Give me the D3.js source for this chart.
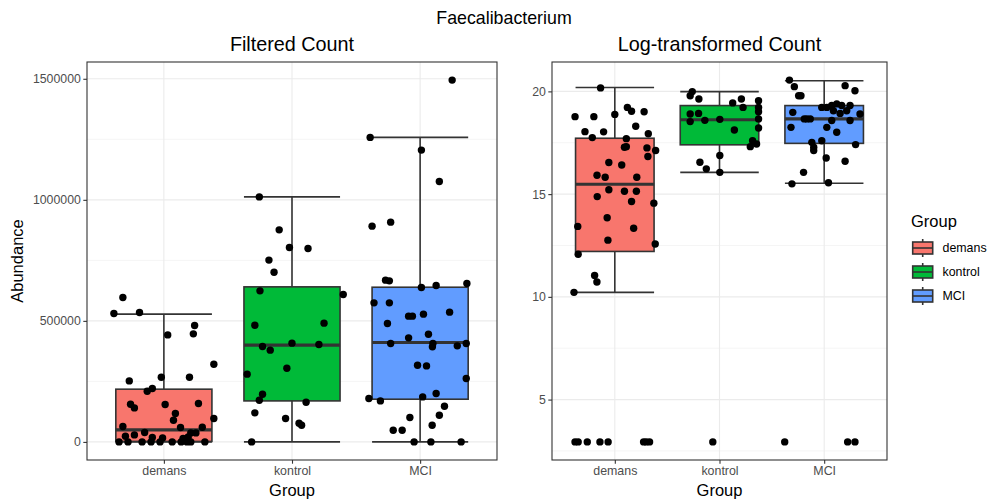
<!DOCTYPE html>
<html>
<head>
<meta charset="utf-8">
<script src="https://cdn.jsdelivr.net/npm/d3@7"></script>
<style>
  body { margin: 0; background: #fff; }
  svg { display: block; font-family: "Liberation Sans", Arial, sans-serif; }
</style>
</head>
<body>
<svg id="chart" width="989" height="500"></svg>
<script>
// ---------------- DATA ----------------
const categories = ["demans", "kontrol", "MCI"];
const colors = ["#F8766D", "#00BA38", "#619CFF"];
const chartTitle = "Faecalibacterium";
const panelTitles = ["Filtered Count", "Log-transformed Count"];
const leftTicks = [0, 500000, 1000000, 1500000];
const leftMinor = [250000, 750000, 1250000];
const rightTicks = [5, 10, 15, 20];
const rightMinor = [2.5, 7.5, 12.5, 17.5];

// Filtered count: values and horizontal jitter (in category units)
const leftDemans = [596700, 530600, 534700, 481000, 446300, 442100, 321000, 252100, 267400, 267400, 220700, 209500, 155800, 140500, 154500, 158700, 117400, 89700, 96700, 63600, 59500, 60700, 37200, 37200, 23600, 28900, 38800, 18200, 16500, 14000, 20700, 0, 0, 0, 0, 0, 0, 0, 0, 0, 0];
const leftDemansJit = [-0.32, -0.39, -0.19, 0.24, 0.23, 0.03, 0.39, -0.27, -0.02, 0.20, -0.09, -0.13, -0.26, -0.23, 0.01, 0.27, 0.09, 0.075, 0.39, -0.32, 0.13, 0.30, 0.21, 0.25, -0.30, -0.23, -0.15, -0.09, -0.01, 0.15, 0.19, -0.35, -0.28, -0.17, -0.10, -0.03, 0.065, 0.135, 0.18, 0.21, 0.32];
const leftKontrol = [1012000, 876000, 803000, 799000, 751000, 701000, 624000, 609000, 482000, 490500, 408000, 402500, 394000, 379000, 304500, 280000, 197000, 172000, 164000, 120000, 96700, 77300, 69000, 0];
const leftKontrolJit = [-0.255, -0.10, -0.02, 0.125, -0.18, -0.14, -0.25, 0.40, -0.29, 0.25, 0.00, 0.21, -0.23, -0.17, -0.04, -0.35, -0.23, -0.255, 0.11, -0.29, -0.05, 0.055, 0.075, -0.315];
const leftMCI = [1494600, 1257900, 1205400, 1076000, 891300, 907800, 668200, 665300, 638000, 646300, 654500, 574400, 574400, 489200, 519400, 519400, 527700, 536000, 445000, 406600, 429800, 406600, 392600, 396700, 406600, 316900, 314000, 262000, 179300, 169400, 186000, 200000, 147500, 110300, 100800, 69000, 48300, 48300, 0, 0, 0];
const leftMCIJit = [0.25, -0.39, 0.01, 0.15, -0.375, -0.23, -0.27, -0.24, 0.01, 0.125, 0.365, -0.36, -0.24, -0.255, -0.09, -0.06, 0.026, 0.23, 0.065, -0.23, -0.09, 0.10, 0.096, 0.29, 0.36, -0.02, 0.05, 0.36, -0.40, -0.31, 0.02, 0.125, 0.19, 0.15, -0.08, 0.094, -0.21, -0.14, -0.047, 0.084, 0.32];

// Box statistics: [lower whisker, Q1, median, Q3, upper whisker]
const leftBoxDemans = [0, 2000, 49600, 217800, 528000];
const leftBoxKontrol = [0, 169400, 399600, 640500, 1012000];
const leftBoxMCI = [0, 176400, 410700, 639000, 1257900];

// Log-transformed count: values and jitter
const rightDemans = [20.17, 18.77, 18.77, 18.88, 19.22, 19.03, 19.01, 18.30, 18.04, 17.75, 18.03, 17.70, 17.94, 17.28, 17.31, 17.25, 17.12, 16.83, 16.54, 16.42, 15.92, 15.82, 15.82, 15.21, 15.14, 15.14, 14.88, 14.64, 14.56, 13.85, 13.43, 13.34, 12.76, 12.57, 12.07, 11.04, 10.72, 10.22, 2.94, 2.94, 2.94, 2.94, 2.94, 2.94, 2.94, 2.94];
const rightDemansJit = [-0.136, -0.38, -0.20, 0.00, 0.12, 0.16, 0.28, 0.20, -0.285, -0.215, -0.107, 0.11, 0.32, 0.092, 0.11, 0.307, 0.39, 0.316, -0.057, 0.066, -0.17, -0.092, 0.21, -0.057, 0.092, 0.206, -0.168, 0.16, 0.373, -0.073, -0.354, 0.18, -0.066, 0.386, -0.35, -0.193, -0.171, -0.39, -0.38, -0.35, -0.263, -0.142, -0.064, 0.275, 0.30, 0.332];
const rightKontrol = [19.99, 19.79, 19.63, 19.44, 19.63, 19.55, 19.22, 19.22, 19.01, 18.90, 18.93, 18.53, 18.59, 18.64, 18.66, 18.22, 18.12, 17.60, 17.44, 17.31, 16.88, 16.55, 16.23, 16.06, 2.94];
const rightKontrolJit = [-0.26, -0.28, -0.197, 0.126, 0.209, 0.373, 0.225, 0.373, 0.373, -0.28, -0.20, -0.28, -0.14, 0.003, 0.373, 0.373, 0.142, 0.316, 0.354, 0.294, 0.003, -0.187, -0.126, 0.003, -0.064];
const rightMCI = [20.55, 20.23, 19.79, 19.79, 20.28, 20.03, 18.98, 18.25, 18.66, 18.66, 18.66, 19.22, 19.22, 19.31, 19.06, 19.39, 19.31, 19.31, 19.06, 18.90, 18.58, 18.58, 18.93, 18.25, 18.01, 17.52, 17.28, 17.12, 17.60, 17.41, 16.76, 16.60, 16.06, 15.50, 15.55, 2.94, 2.94, 2.94];
const rightMCIJit = [-0.332, -0.285, -0.244, -0.222, 0.20, 0.294, -0.30, -0.317, -0.19, -0.165, -0.133, -0.023, 0.025, 0.072, 0.088, 0.12, 0.167, 0.247, 0.215, 0.342, 0.247, 0.072, 0.152, 0.025, 0.12, -0.118, -0.10, -0.10, -0.023, 0.30, 0.019, 0.20, -0.197, -0.308, 0.041, -0.377, 0.224, 0.294];

const rightBoxDemans = [10.22, 12.21, 15.48, 17.72, 20.19];
const rightBoxKontrol = [16.06, 17.40, 18.62, 19.31, 19.99];
const rightBoxMCI = [15.53, 17.47, 18.66, 19.31, 20.52];

// ---------------- DRAWING ----------------
const svg = d3.select("#chart");
const font = "'Liberation Sans', Arial, sans-serif";
const dark = "#333333";

svg.append("rect").attr("width", 989).attr("height", 500).attr("fill", "#fff");

svg.append("text").attr("x", 504).attr("y", 24).attr("text-anchor", "middle")
  .attr("font-size", 17.8).attr("fill", "#000").text(chartTitle);

function panel(opt) {
  const { x0, x1, y0, y1, title, values, jitters, boxes, ticks, minor } = opt;
  const g = svg.append("g");
  const allVals = values.flat();
  const ext = d3.extent(allVals);
  const pad = (ext[1] - ext[0]) * 0.05;
  const y = d3.scaleLinear().domain([ext[0] - pad, ext[1] + pad]).range([y1, y0]);
  const x = d3.scalePoint().domain(categories).range([x0, x1]).padding(0.6);
  const step = x.step();
  const bw = step * 0.75;

  // grid
  g.selectAll(".minor").data(minor).join("line")
    .attr("x1", x0).attr("x2", x1).attr("y1", d => y(d)).attr("y2", d => y(d))
    .attr("stroke", "#F2F2F2").attr("stroke-width", 0.8);
  g.selectAll(".major").data(ticks).join("line")
    .attr("x1", x0).attr("x2", x1).attr("y1", d => y(d)).attr("y2", d => y(d))
    .attr("stroke", "#EBEBEB").attr("stroke-width", 1.1);
  g.selectAll(".vmajor").data(categories).join("line")
    .attr("x1", d => x(d)).attr("x2", d => x(d)).attr("y1", y0).attr("y2", y1)
    .attr("stroke", "#EBEBEB").attr("stroke-width", 1.1);

  // errorbars + boxes
  categories.forEach((c, i) => {
    const [lo, q1, med, q3, hi] = boxes[i];
    const cx = x(c);
    g.append("line").attr("x1", cx).attr("x2", cx).attr("y1", y(lo)).attr("y2", y(hi))
      .attr("stroke", dark).attr("stroke-width", 1.6);
    [lo, hi].forEach(v => {
      g.append("line").attr("x1", cx - bw / 2).attr("x2", cx + bw / 2)
        .attr("y1", y(v)).attr("y2", y(v)).attr("stroke", dark).attr("stroke-width", 1.6);
    });
    g.append("rect").attr("x", cx - bw / 2).attr("width", bw)
      .attr("y", y(q3)).attr("height", y(q1) - y(q3))
      .attr("fill", colors[i]).attr("stroke", dark).attr("stroke-width", 1.6);
    g.append("line").attr("x1", cx - bw / 2).attr("x2", cx + bw / 2)
      .attr("y1", y(med)).attr("y2", y(med)).attr("stroke", dark).attr("stroke-width", 3.2);
  });

  // points
  categories.forEach((c, i) => {
    const pts = values[i].map((v, k) => ({ v, j: jitters[i][k] }));
    g.selectAll(null).data(pts).join("circle")
      .attr("cx", d => x(c) + d.j * step)
      .attr("cy", d => y(d.v))
      .attr("r", 3.7).attr("fill", "#000");
  });

  // border
  g.append("rect").attr("x", x0).attr("y", y0).attr("width", x1 - x0).attr("height", y1 - y0)
    .attr("fill", "none").attr("stroke", dark).attr("stroke-width", 1.1);

  // y axis
  const yAxis = d3.axisLeft(y).tickValues(ticks).tickSize(3.7).tickPadding(2.5)
    .tickFormat(d3.format("d"));
  const ya = g.append("g").attr("transform", `translate(${x0},0)`).call(yAxis);
  ya.select(".domain").remove();
  ya.selectAll(".tick line").attr("stroke", dark).attr("stroke-width", 1.1);
  ya.selectAll(".tick text").attr("fill", "#4D4D4D").attr("font-size", 12.3)
    .attr("font-family", font);

  // x axis
  const xAxis = d3.axisBottom(x).tickSize(3.7).tickPadding(2.5);
  const xa = g.append("g").attr("transform", `translate(0,${y1})`).call(xAxis);
  xa.select(".domain").remove();
  xa.selectAll(".tick line").attr("stroke", dark).attr("stroke-width", 1.1);
  xa.selectAll(".tick text").attr("fill", "#4D4D4D").attr("font-size", 12.4)
    .attr("font-family", font);

  // titles
  g.append("text").attr("x", (x0 + x1) / 2).attr("y", 51).attr("text-anchor", "middle")
    .attr("font-size", 19.8).attr("fill", "#000").text(title);
  g.append("text").attr("x", (x0 + x1) / 2).attr("y", 496).attr("text-anchor", "middle")
    .attr("font-size", 16.5).attr("fill", "#000").text("Group");
  return g;
}

panel({
  x0: 87, x1: 497, y0: 62, y1: 460, title: panelTitles[0],
  values: [leftDemans, leftKontrol, leftMCI],
  jitters: [leftDemansJit, leftKontrolJit, leftMCIJit],
  boxes: [leftBoxDemans, leftBoxKontrol, leftBoxMCI],
  ticks: leftTicks, minor: leftMinor
});
panel({
  x0: 552, x1: 887, y0: 62, y1: 460, title: panelTitles[1],
  values: [rightDemans, rightKontrol, rightMCI],
  jitters: [rightDemansJit, rightKontrolJit, rightMCIJit],
  boxes: [rightBoxDemans, rightBoxKontrol, rightBoxMCI],
  ticks: rightTicks, minor: rightMinor
});

// y label
svg.append("text").attr("transform", "translate(23,261) rotate(-90)")
  .attr("text-anchor", "middle").attr("font-size", 16.5).attr("fill", "#000").text("Abundance");

// legend
const lg = svg.append("g");
lg.append("text").attr("x", 911).attr("y", 227).attr("font-size", 16.5).attr("fill", "#000").text("Group");
categories.forEach((c, i) => {
  const cy = 248 + i * 24;
  const kx = 922.7;
  lg.append("line").attr("x1", kx).attr("x2", kx).attr("y1", cy - 9).attr("y2", cy + 9)
    .attr("stroke", dark).attr("stroke-width", 1.6);
  lg.append("rect").attr("x", kx - 10).attr("y", cy - 6).attr("width", 20).attr("height", 12)
    .attr("fill", colors[i]).attr("stroke", dark).attr("stroke-width", 1.6);
  lg.append("line").attr("x1", kx - 10).attr("x2", kx + 10).attr("y1", cy).attr("y2", cy)
    .attr("stroke", dark).attr("stroke-width", 1.6);
  lg.append("text").attr("x", 942.5).attr("y", cy).attr("dy", "0.35em")
    .attr("font-size", 12.4).attr("fill", "#000").text(c);
});
</script>
</body>
</html>
